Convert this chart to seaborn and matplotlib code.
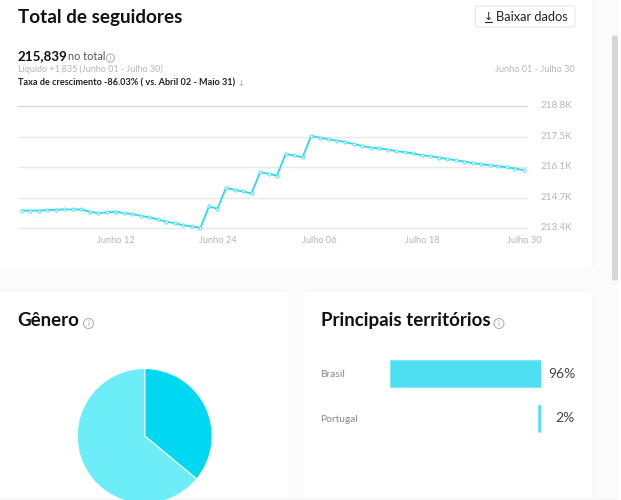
import matplotlib
matplotlib.use("Agg")
import matplotlib.pyplot as plt
from matplotlib.patches import FancyBboxPatch, Rectangle, Circle
from matplotlib.transforms import ScaledTranslation
import numpy as np
import pandas as pd
import seaborn as sns

W, H = 621, 500

# ---- data ----
day_index = list(range(60))
followers_k = [214.17, 214.17, 214.17, 214.19, 214.21, 214.22, 214.22, 214.22, 214.12, 214.06,
               214.09, 214.12, 214.06, 214.02, 213.94, 213.87, 213.78, 213.68, 213.61, 213.52,
               213.47, 213.41, 214.36, 214.25, 215.18, 215.09, 215.02, 214.93, 215.87, 215.80,
               215.72, 216.68, 216.61, 216.53, 217.48, 217.40, 217.33, 217.27, 217.21, 217.12,
               217.03, 216.96, 216.92, 216.87, 216.80, 216.75, 216.70, 216.62, 216.58, 216.52,
               216.45, 216.40, 216.34, 216.27, 216.22, 216.18, 216.14, 216.08, 216.03, 215.96]
x_tick_days = [11, 23, 35, 47, 59]
x_tick_labels = ["Junho 12", "Junho 24", "Julho 06", "Julho 18", "Julho 30"]
y_ticks = [213.4, 214.75, 216.1, 217.45, 218.8]
y_tick_labels = ["213.4K", "214.7K", "216.1K", "217.5K", "218.8K"]
gender_shares = [36, 64]
gender_colors = ["#00d8f2", "#6cedf8"]
territories = ["Brasil", "Portugal"]
territory_share = [96, 2]

FONT = "Lato"
CYAN = "#2bd9f0"
sns.set_theme(style="white", rc={"font.family": FONT})
fig = plt.figure(figsize=(W / 100, H / 100), dpi=100, facecolor="#fbfbfb")


def px_axes(left, top, right, bottom, **kw):
    return fig.add_axes([left / W, 1 - bottom / H, (right - left) / W, (bottom - top) / H], **kw)


bg = px_axes(0, 0, W, H)
bg.set_xlim(0, W)
bg.set_ylim(H, 0)
bg.axis("off")
for l, t, r, b in [(-20, -20, 593, 270), (-20, 291, 290, 520), (302, 291, 593, 520)]:
    bg.add_patch(FancyBboxPatch((l + 6, t + 6), r - l - 12, b - t - 12,
                                boxstyle="round,pad=6,rounding_size=6", fc="white", ec="#f6f6f6", lw=0.8))
bg.add_patch(Rectangle((0, 498), W, 2, fc="#f7f7f7", ec="none", zorder=5))
bg.add_patch(Rectangle((618, 0), 3, H, fc="white", ec="none", zorder=5))
bg.add_patch(FancyBboxPatch((612.5, 36), 5, 244, boxstyle="round,pad=0.5,rounding_size=2",
                            fc="#d6d6d6", ec="none", zorder=6))

# header text
bg.text(17.5, 17.5, "Total de seguidores", fontsize=13.6, fontweight="bold", color="#111111", va="center")
bg.text(18, 56, "215,839", fontsize=9.6, fontweight="bold", color="#111111", va="center")
bg.text(68.5, 57, "no total", fontsize=7.8, color="#555555", va="center")


def info(x, y, r):
    bg.add_patch(Circle((x, y), r, fc="none", ec="#aaaaaa", lw=0.7))
    bg.text(x, y, "i", fontsize=r * 1.1, color="#999999", ha="center", va="center")


info(110.5, 58, 4)
bg.text(18, 69.5, "Líquido +1,835 (Junho 01 - Julho 30)", fontsize=6.5, color="#b5b5b5", va="center")
bg.text(18, 83, "Taxa de crescimento -86.03% ( vs. Abril 02 - Maio 31)", fontsize=6.55,
        color="#222222", va="center", fontweight="bold")
bg.text(241, 83, "↓", fontsize=6, color="#aaaaaa", va="center", ha="center", family="DejaVu Sans")
bg.text(574.5, 69.5, "Junho 01 - Julho 30", fontsize=6.55, color="#b5b5b5", va="center", ha="right")

# button
bg.add_patch(FancyBboxPatch((476.5, 7), 97.5, 19, boxstyle="round,pad=1,rounding_size=2",
                            fc="white", ec="#e6e6e6", lw=0.8))
bg.text(488, 17, "↓", fontsize=8, color="#222222", va="center", ha="center", family="DejaVu Sans")
bg.plot([484.5, 491.5], [21.5, 21.5], color="#222222", lw=0.8)
bg.text(496, 17, "Baixar dados", fontsize=9.3, color="#222222", va="center")

bg.text(17.5, 320.5, "Gênero", fontsize=13.5, fontweight="bold", color="#111111", va="center")
info(88.5, 323.5, 5)
bg.text(321, 320.5, "Principais territórios", fontsize=13.5, fontweight="bold", color="#111111", va="center")
info(499, 323.5, 5)

# line chart
ax = px_axes(18, 100, 528, 233)
ax.patch.set_alpha(0)
df = pd.DataFrame({"day": day_index, "followers": followers_k})
sns.lineplot(data=df, x="day", y="followers", ax=ax, color=CYAN, lw=1.3, marker="o", markersize=2.3,
             markerfacecolor="white", markeredgecolor=CYAN, markeredgewidth=0.55, zorder=3, clip_on=False)
ax.set_xlim(-0.43, 59.47)
span = 5.4 / 122
ax.set_ylim(213.4 - 5 * span, 218.8 + 6 * span)
ax.set_xlabel("")
ax.set_ylabel("")
for s in ax.spines.values():
    s.set_visible(False)
ax.yaxis.tick_right()
ax.set_yticks(y_ticks)
ax.set_yticklabels(y_tick_labels)
ax.set_xticks(x_tick_days)
ax.set_xticklabels(x_tick_labels)
ax.tick_params(axis="y", length=0, labelsize=7, labelcolor="#b5b5b5", pad=9)
ax.tick_params(axis="x", length=0, labelsize=6.7, labelcolor="#b5b5b5", pad=2)
shift_up = ScaledTranslation(0, 1.5 / 100, fig.dpi_scale_trans)
for lab in ax.get_yticklabels():
    lab.set_transform(lab.get_transform() + shift_up)
for tick in y_ticks:
    ax.axhline(tick, color="#d9d9d9" if tick == y_ticks[-1] else "#e9e9e9", lw=1, zorder=1)

# pie
cx, cy, radius = 144.7, 436, 67.5
pie_ax = px_axes(cx - radius - 2, cy - radius - 2, cx + radius + 2, 498)
pie_ax.pie(gender_shares, colors=gender_colors, startangle=90, counterclock=False, radius=1,
           wedgeprops={"edgecolor": "white", "linewidth": 0.8})
pie_ax.set_xlim(-(radius + 2) / radius, (radius + 2) / radius)
pie_ax.set_ylim(-(498 - cy) / radius, (radius + 2) / radius)
pie_ax.set_aspect("auto")

# bars
bar_ax = px_axes(390, 351, 541, 441)
bar_ax.patch.set_alpha(0)
bdf = pd.DataFrame({"territory": territories, "share": territory_share})
sns.barplot(data=bdf, y="territory", x="share", ax=bar_ax, orient="h", color="#4fdff2",
            saturation=1, width=0.6, edgecolor="#7ae8f6", linewidth=0.6)
bar_ax.set_xlim(96, 0)
bar_ax.set_xlabel("")
bar_ax.set_ylabel("")
bar_ax.set_xticks([])
for s in bar_ax.spines.values():
    s.set_visible(False)
bar_ax.tick_params(axis="y", length=0, pad=50.4, labelsize=7.4, labelcolor="#8a8a8a")
for lab in bar_ax.get_yticklabels():
    lab.set_ha("left")
for i, v in enumerate(territory_share):
    bar_ax.annotate(f"{v}%", xy=(0, i), xytext=(24.5, 0), textcoords="offset points",
                    ha="right", va="center", fontsize=10, color="#444444")

fig.savefig("out.png", dpi=100, facecolor=fig.get_facecolor())
